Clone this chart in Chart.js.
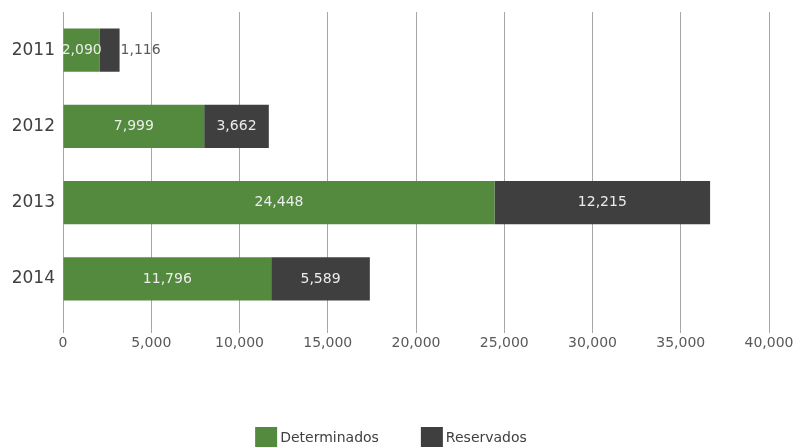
<!DOCTYPE html>
<html>
<head>
    <title>Determinados y Reservados</title>
    <script src="https://cdn.jsdelivr.net/npm/chart.js"></script>
    <style>
        html, body { margin: 0; padding: 0; background: #fff; }
        #wrap { width: 796px; height: 447px; }
    </style>
</head>
<body>
    <div id="wrap"><canvas id="casosChart" width="796" height="447"></canvas></div>

    <script>
        const years = ['2011', '2012', '2013', '2014'];
        const determinados = [2090, 7999, 24448, 11796];
        const reservados = [1116, 3662, 12215, 5589];
        const seriesNames = ['Determinados', 'Reservados'];
        const seriesColors = ['#548a3d', '#3f3f3f'];

        const FONT = "'DejaVu Sans', sans-serif";
        const fmt = v => v.toLocaleString('en-US');

        // value labels inside each segment; a segment too narrow gets its label just past its end
        const barLabels = {
            id: 'barLabels',
            afterDatasetsDraw(chart) {
                const ctx = chart.ctx;
                ctx.save();
                ctx.font = '14px ' + FONT;
                ctx.textBaseline = 'middle';
                const last = chart.data.datasets.length - 1;
                chart.data.datasets.forEach((ds, di) => {
                    chart.getDatasetMeta(di).data.forEach((bar, i) => {
                        const txt = fmt(ds.data[i]);
                        const w = ctx.measureText(txt).width;
                        const width = Math.abs(bar.x - bar.base);
                        if (di === last && w > width - 4) {
                            ctx.fillStyle = '#595959';
                            ctx.textAlign = 'left';
                            ctx.fillText(txt, bar.x + 1, bar.y);
                        } else {
                            ctx.fillStyle = '#ececec';
                            ctx.textAlign = 'center';
                            ctx.fillText(txt, (bar.x + bar.base) / 2, bar.y);
                        }
                    });
                });
                ctx.restore();
            }
        };

        // legend row along the bottom edge
        const bottomLegend = {
            id: 'bottomLegend',
            afterDraw(chart) {
                const ctx = chart.ctx;
                const boxW = 22, boxH = 20, gap = 3, spacing = 42;
                ctx.save();
                ctx.font = '14px ' + FONT;
                ctx.textBaseline = 'middle';
                ctx.textAlign = 'left';
                const items = chart.data.datasets.map(ds => ({
                    label: ds.label, color: ds.backgroundColor,
                    w: boxW + gap + ctx.measureText(ds.label).width
                }));
                const total = items.reduce((s, it) => s + it.w, 0) + spacing * (items.length - 1);
                let x = chart.width / 2 - 7 - total / 2;
                const y = chart.height - boxH;
                items.forEach(it => {
                    ctx.fillStyle = it.color;
                    ctx.fillRect(x, y, boxW, boxH);
                    ctx.fillStyle = '#404040';
                    ctx.fillText(it.label, x + boxW + gap, y + boxH / 2 + 1);
                    x += it.w + spacing;
                });
                ctx.restore();
            }
        };

        const ctx = document.getElementById('casosChart').getContext('2d');
        new Chart(ctx, {
            type: 'bar',
            data: {
                labels: years,
                datasets: [
                    { label: seriesNames[0], data: determinados, backgroundColor: seriesColors[0] },
                    { label: seriesNames[1], data: reservados, backgroundColor: seriesColors[1] }
                ]
            },
            options: {
                indexAxis: 'y',
                responsive: false,
                animation: false,
                layout: { padding: { top: 12, right: 27, bottom: 0, left: 0 } },
                datasets: {
                    bar: { categoryPercentage: 1, barPercentage: 0.565, borderWidth: 0 }
                },
                scales: {
                    x: {
                        stacked: true,
                        min: 0,
                        max: 40000,
                        ticks: {
                            stepSize: 5000,
                            color: '#595959',
                            font: { family: FONT, size: 14 },
                            padding: 2,
                            callback: v => fmt(v)
                        },
                        grid: { color: '#a6a6a6', lineWidth: 1, tickLength: 16 },
                        border: { display: false },
                        afterFit: s => { s.height = 130; }
                    },
                    y: {
                        stacked: true,
                        ticks: {
                            color: '#404040',
                            font: { family: FONT, size: 17 },
                            padding: 8
                        },
                        grid: { display: false, drawTicks: false },
                        border: { display: true, color: '#a6a6a6' },
                        afterFit: s => { s.width = 63; s.paddingTop = 0; s.paddingBottom = 0; }
                    }
                },
                plugins: {
                    legend: { display: false },
                    tooltip: { enabled: false }
                }
            },
            plugins: [barLabels, bottomLegend]
        });
    </script>
</body>
</html>
